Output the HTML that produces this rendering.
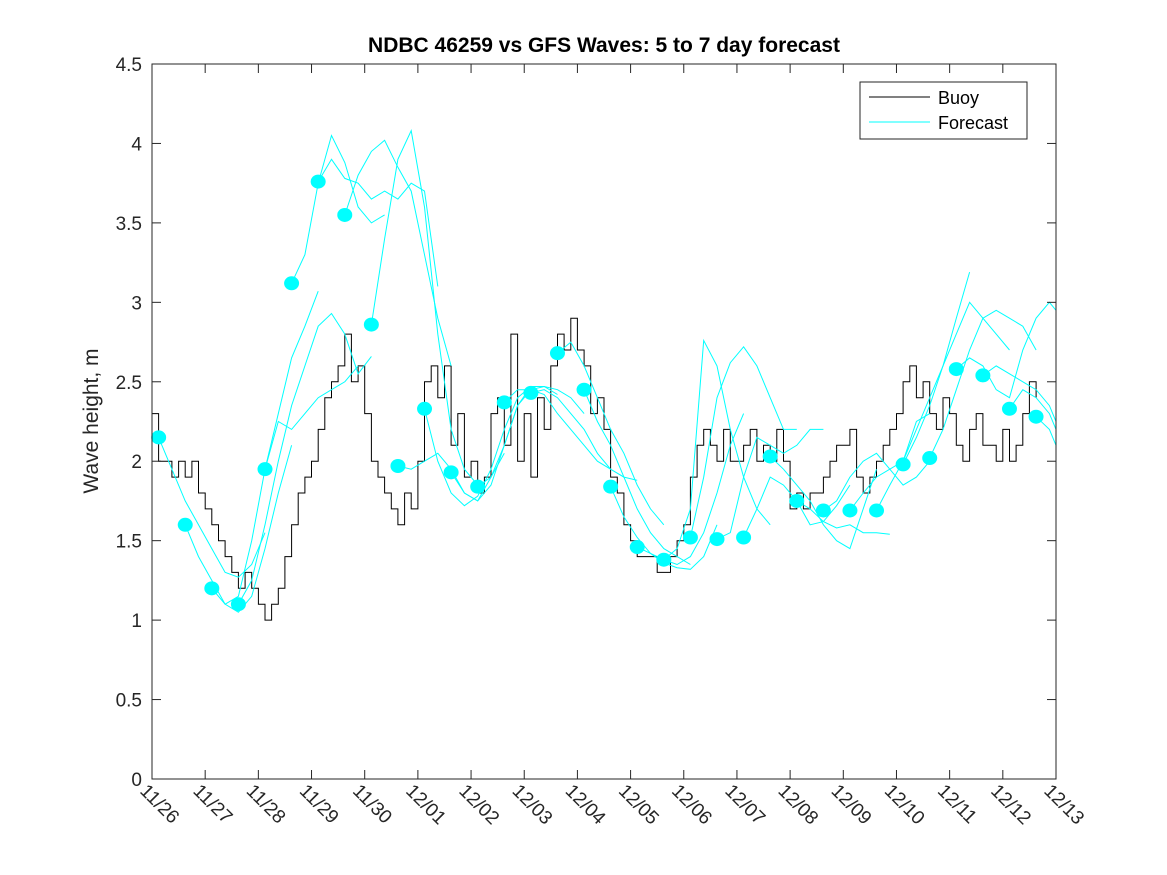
<!DOCTYPE html>
<html><head><meta charset="utf-8"><style>
body{margin:0;background:#fff;}
svg{display:block;font-family:"Liberation Sans",sans-serif;}
</style></head><body>
<svg id="chart" width="1167" height="875" viewBox="0 0 1167 875" xmlns="http://www.w3.org/2000/svg">
<rect width="1167" height="875" fill="#fff"/>
<g id="plot"></g>
<g id="axes"></g>
<text x="604" y="52" text-anchor="middle" font-size="21" font-weight="bold" fill="#000">NDBC 46259 vs GFS Waves: 5 to 7 day forecast</text>
<text transform="translate(98,421) rotate(-90)" text-anchor="middle" font-size="21" fill="#262626">Wave height, m</text>
<g>
<rect x="860" y="82" width="167" height="57" fill="#fff" stroke="#262626" stroke-width="1"/>
<line x1="869" y1="97" x2="930" y2="97" stroke="#000" stroke-width="1"/>
<text x="938" y="104" font-size="18" fill="#000">Buoy</text>
<line x1="869" y1="122" x2="930" y2="122" stroke="#00ffff" stroke-width="1"/>
<text x="938" y="129" font-size="18" fill="#000">Forecast</text>
</g>
</svg>
<script>
const xTickLabels=["11/26","11/27","11/28","11/29","11/30","12/01","12/02","12/03","12/04","12/05","12/06","12/07","12/08","12/09","12/10","12/11","12/12","12/13"];
const yTicks=[0,0.5,1,1.5,2,2.5,3,3.5,4,4.5];
// buoy values every 3 hours starting 11/26 00:00
const buoy=[2.3,2.0,2.0,1.9,2.0,1.9,2.0,1.8,
1.7,1.6,1.5,1.4,1.3,1.2,1.3,1.2,
1.1,1.0,1.1,1.2,1.4,1.6,1.8,1.9,
2.0,2.2,2.4,2.5,2.6,2.8,2.5,2.6,
2.3,2.0,1.9,1.8,1.7,1.6,1.8,1.7,
2.0,2.5,2.6,2.4,2.6,2.1,2.3,1.9,
2.0,1.8,1.9,2.3,2.4,2.1,2.8,2.0,
2.3,1.9,2.4,2.2,2.6,2.8,2.7,2.9,
2.7,2.6,2.3,2.4,2.2,1.9,1.8,1.6,
1.5,1.4,1.4,1.4,1.3,1.3,1.4,1.5,
1.6,1.9,2.1,2.2,2.1,2.0,2.2,2.0,
2.0,2.1,2.2,2.0,2.1,2.0,2.2,2.0,
1.7,1.8,1.7,1.8,1.8,1.9,2.0,2.1,
2.1,2.2,1.9,1.8,1.9,2.0,2.1,2.2,
2.3,2.5,2.6,2.4,2.5,2.3,2.2,2.4,
2.3,2.1,2.0,2.2,2.3,2.1,2.1,2.0,
2.2,2.0,2.1,2.3,2.5,2.4];
const buoyStepDays=0.125;
// forecast markers every half day from 11/26 03:00
const markerStart=0.125;
const markers=[2.15,1.6,1.2,1.1,1.95,3.12,3.76,3.55,2.86,1.97,2.33,1.93,1.84,2.37,2.43,2.68,2.45,1.84,1.46,1.38,1.52,1.51,1.52,2.03,1.75,1.69,1.69,1.69,1.98,2.02,2.58,2.54,2.33,2.28];
// forecast segments: each starts at its marker, 6-hourly values
const fStep=0.25;
const fc0=[2.15,1.95,1.75,1.6,1.45,1.3,1.27,1.35,1.55];
const fc1=[1.6,1.4,1.25,1.1,1.05,1.15,1.45,1.8,2.1];
const fc2=[1.2,1.1,1.15,1.5,1.95,2.3,2.65,2.85,3.07];
const fc3=[1.1,1.25,1.6,2.0,2.35,2.6,2.85,2.93,2.8,2.55,2.66];
const fc4=[1.95,2.25,2.2,2.3,2.4,2.45,2.5,2.6];
const fc5=[3.12,3.3,3.75,4.05,3.88,3.6,3.5,3.55];
const fc6=[3.76,3.9,3.78,3.75,3.65,3.7,3.65,3.75,3.7,3.1];
const fc7=[3.55,3.8,3.95,4.02,3.85,3.7,3.3,2.9,2.6];
const fc8=[2.86,3.4,3.9,4.08,3.6,2.8,2.2,1.95,1.85];
const fc9=[1.97,1.95,2.0,2.05,1.95,1.8,1.75,1.9,2.05];
const fc10=[2.33,2.0,1.8,1.72,1.78,1.95,2.2,2.4,2.47];
const fc11=[1.93,1.8,1.75,1.85,2.1,2.35,2.47,2.47,2.42];
const fc12=[1.84,1.9,2.1,2.35,2.45,2.47,2.45,2.4,2.3];
const fc13=[2.37,2.45,2.45,2.42,2.3,2.2,2.1,2.0,1.95];
const fc14=[2.43,2.45,2.4,2.3,2.2,2.05,1.95,1.9,1.88];
const fc15=[2.68,2.75,2.6,2.4,2.2,2.05,1.85,1.7,1.6];
const fc16=[2.45,2.25,2.1,1.9,1.7,1.55,1.45,1.4,1.35];
const fc17=[1.84,1.65,1.52,1.42,1.36,1.33,1.32,1.4,1.6];
const fc18=[1.46,1.42,1.38,1.35,1.4,1.55,1.8,2.1,2.3];
const fc19=[1.38,1.45,1.7,2.76,2.6,2.2,1.9,1.7,1.6];
const fc20=[1.52,1.9,2.4,2.62,2.72,2.6,2.4,2.2,2.2];
const fc21=[1.51,1.55,1.9,2.15,2.1,2.05,2.1,2.2,2.2];
const fc22=[1.52,1.7,1.9,1.85,1.75,1.6,1.62,1.72,1.85];
const fc23=[2.03,1.95,1.85,1.75,1.6,1.5,1.45,1.7,1.95];
const fc24=[1.75,1.7,1.62,1.58,1.6,1.55,1.55,1.54];
const fc25=[1.69,1.75,1.9,2.0,2.05,1.95,1.85,1.9,2.0];
const fc26=[1.69,1.8,1.9,1.95,2.0,2.25,2.3];
const fc27=[1.69,1.85,2.0,2.2,2.4,2.6,2.9,3.19];
const fc28=[1.98,2.15,2.35,2.6,2.8,3.0,2.9,2.8,2.7];
const fc29=[2.02,2.2,2.45,2.7,2.9,2.95,2.9,2.85,2.7];
const fc30=[2.58,2.65,2.6,2.45,2.4,2.7,2.9,3.0,2.95];
const fc31=[2.54,2.6,2.55,2.5,2.45,2.35,2.25,2.15,2.1];
const fc32=[2.33,2.45,2.4,2.3,2.2,2.1];
const fc33=[2.28,2.2,2.1];
const forecasts=[fc0,fc1,fc2,fc3,fc4,fc5,fc6,fc7,fc8,fc9,fc10,fc11,fc12,fc13,fc14,fc15,fc16,fc17,fc18,fc19,fc20,fc21,fc22,fc23,fc24,fc25,fc26,fc27,fc28,fc29,fc30,fc31,fc32,fc33];

const X0=152,X1=1056,Y0=779,Y1=64,DAYS=17,YMAX=4.5;
const NS="http://www.w3.org/2000/svg";
function xs(d){return X0+(d/DAYS)*(X1-X0);}
function ys(v){return Y0-(v/YMAX)*(Y0-Y1);}
function mk(tag,attrs,parent){const e=document.createElementNS(NS,tag);for(const k in attrs)e.setAttribute(k,attrs[k]);parent.appendChild(e);return e;}
const plot=document.getElementById('plot'),axes=document.getElementById('axes');

// buoy line drawn as stairs
let bpts=[];
buoy.forEach((v,i)=>{
  const x=xs(i*buoyStepDays), y=ys(v);
  if(i>0) bpts.push(x.toFixed(1)+","+ys(buoy[i-1]).toFixed(1));
  bpts.push(x.toFixed(1)+","+y.toFixed(1));
});
const bl=mk('polyline',{points:bpts.join(" "),fill:'none',stroke:'#000','stroke-width':1},plot);



forecasts.forEach((seg,k)=>{
  const s=markerStart+k*0.5;
  const pts=seg.map((v,i)=>{const d=Math.min(s+i*fStep,DAYS);return xs(d).toFixed(1)+","+ys(v).toFixed(1);}).join(" ");
  const l=mk('polyline',{points:pts,fill:'none',stroke:'#00ffff','stroke-width':1},plot);
  
  
});
markers.forEach((v,k)=>{
  const c=mk('ellipse',{cx:xs(markerStart+k*0.5),cy:ys(v),rx:7.5,ry:7,fill:'#00ffff'},plot);
  
  
});

const box=mk('rect',{x:X0,y:Y1,width:X1-X0,height:Y0-Y1,fill:'none',stroke:'#262626','stroke-width':1},axes);


yTicks.forEach(v=>{
  const y=ys(v);
  mk('line',{x1:X0,y1:y,x2:X0+9,y2:y,stroke:'#262626'},axes);
  mk('line',{x1:X1,y1:y,x2:X1-9,y2:y,stroke:'#262626'},axes);
  const t=mk('text',{x:X0-10,y:y+7,'text-anchor':'end','font-size':19,fill:'#262626'},axes);
  t.textContent=String(v);
  
  
});
xTickLabels.forEach((lab,i)=>{
  const x=xs(i);
  mk('line',{x1:x,y1:Y0,x2:x,y2:Y0-9,stroke:'#262626'},axes);
  mk('line',{x1:x,y1:Y1,x2:x,y2:Y1+9,stroke:'#262626'},axes);
  const t=mk('text',{x:0,y:0,transform:`translate(${x-13},${Y0+13}) rotate(45)`,'font-size':19,fill:'#262626'},axes);
  t.textContent=lab;
  
  
});
</script>
</body></html>
